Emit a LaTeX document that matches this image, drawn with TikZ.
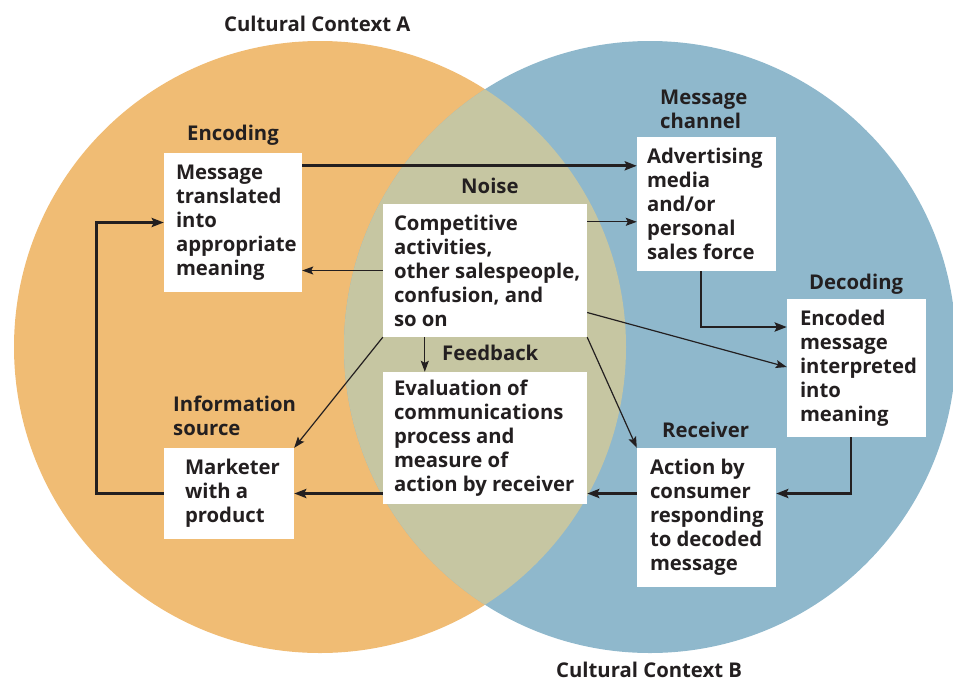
\documentclass[tikz,border=0pt]{standalone}
\usepackage{fontspec}
\setmainfont{Open Sans}
\usetikzlibrary{arrows.meta,calc}
\definecolor{orng}{HTML}{F0BC74}
\definecolor{blu}{HTML}{8FB8CC}
\definecolor{ovl}{HTML}{C6C6A2}
\definecolor{ink}{HTML}{231F20}
\begin{document}
\begin{tikzpicture}[x=1pt,y=-1pt,
  font=\fontsize{20.3}{24}\selectfont\bfseries,
  every node/.style={text=ink},
  box/.style={fill=white,draw=none,inner sep=0pt},
  txt/.style={align=left,inner sep=0pt,anchor=west},
  lbl/.style={inner sep=0pt,anchor=base west},
  thickarr/.style={draw=ink,line width=2.8pt,-{Stealth[length=12pt,width=9pt,inset=2pt]}},
  thinarr/.style={draw=ink,line width=1.2pt,-{Stealth[length=11pt,width=8pt,inset=2pt]}}]
\useasboundingbox (0,0) rectangle (953,681);
% circles
\fill[orng] (320,347) circle[radius=306];
\fill[blu] (650,347) circle[radius=306];
\begin{scope}
  \clip (320,347) circle[radius=306];
  \fill[ovl] (650,347) circle[radius=306];
\end{scope}
% boxes
\node[box,minimum width=138,minimum height=139] (enc) at (233,222.5) {};
\node[box,minimum width=139,minimum height=134] (chan) at (706.5,204) {};
\node[box,minimum width=204,minimum height=133] (noise) at (485,270.5) {};
\node[box,minimum width=204,minimum height=132] (fb) at (485,438) {};
\node[box,minimum width=130,minimum height=91] (mkt) at (229,493.5) {};
\node[box,minimum width=139,minimum height=139] (rcv) at (706.5,517.5) {};
\node[box,minimum width=139,minimum height=138] (dec) at (856.5,368) {};
% box texts
\node[txt] (enct) at ($(enc.west)+(12,0)$) {Message\\translated\\into\\appropriate\\meaning};
\node[txt] (chant) at ($(chan.west)+(10,0)$) {Advertising\\media\\and/or\\personal\\sales force};
\node[txt] (noiset) at ($(noise.west)+(11,0)$) {Competitive\\activities,\\other salespeople,\\confusion, and\\so on};
\node[txt] (fbt) at ($(fb.west)+(11,0)$) {Evaluation of\\communications\\process and\\measure of\\action by receiver};
\node[txt] (mktt) at ($(mkt.west)+(21,0)$) {Marketer\\with a\\product};
\node[txt] (rcvt) at ($(rcv.west)+(13,0)$) {Action by\\consumer\\responding\\to decoded\\message};
\node[txt] (dect) at ($(dec.west)+(13,0)$) {Encoded\\message\\interpreted\\into\\meaning};
% labels
\node[lbl] (ctxa) at (224,31) {Cultural Context A};
\node[lbl] (ctxb) at (556,677) {Cultural Context B};
\node[lbl] (encl) at (187,140) {Encoding};
\node[txt] (chanl) at (660,109) {Message\\channel};
\node[lbl] (noisel) at (461,193) {Noise};
\node[lbl] (fbl) at (442,360) {Feedback};
\node[txt] (srcl) at (173,416) {Information\\source};
\node[lbl] (decl) at (809,289) {Decoding};
\node[lbl] (rcvl) at (662,437) {Receiver};
% thick connectors
\coordinate (a1) at ($(enc.north east)+(0,13)$);
\draw[thickarr] (a1) -- (a1 -| chan.west);
\draw[thickarr] ($(chan.south)+(-5.5,0)$) |- ($(dec.west)+(0,-41)$);
\draw[thickarr] ($(dec.south)+(-5.5,0)$) |- (mkt.east -| rcv.east);
\draw[thickarr] (mkt.east -| rcv.west) -- (mkt.east -| fb.east);
\draw[thickarr] (mkt.east -| fb.west) -- (mkt.east);
\draw[thickarr] (mkt.west) -| ($(enc.west)+(-67,0)$) -- (enc.west);
% thin connectors
\draw[thinarr] (noise.west) -- (noise.west -| enc.east);
\coordinate (a8) at ($(noise.north east)+(0,18)$);
\draw[thinarr] (a8) -- (a8 -| chan.west);
\draw[thinarr] ($(noise.east)+(0,42)$) -- ($(dec.west)+(0,-1)$);
\draw[thinarr] (noise.south east) -- (rcv.north west);
\draw[thinarr] (noise.south west) -- (mkt.north east);
\coordinate (a12) at ($(noise.south west)+(42,0)$);
\draw[thinarr] (a12) -- (a12 |- fb.north);
\end{tikzpicture}
\end{document}
